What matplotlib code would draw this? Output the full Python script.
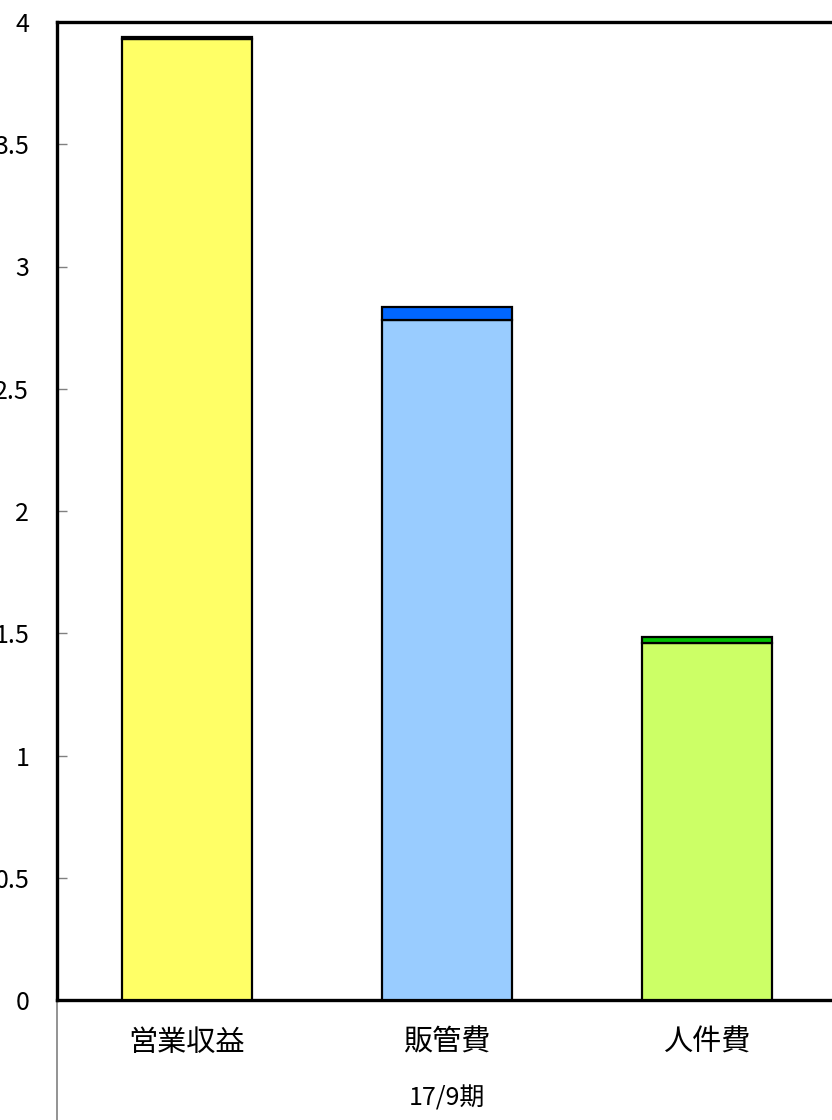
import matplotlib
matplotlib.use("Agg")
import matplotlib.pyplot as plt
from matplotlib.lines import Line2D

plt.rcParams['font.family'] = ['Noto Sans CJK JP', 'DejaVu Sans']

# Data
categories = ["営業収益", "販管費", "人件費"]
base_values = [3.93, 2.78, 1.46]
top_values = [0.008, 0.055, 0.025]
period_label = "17/9期"
yticks = [0, 0.5, 1, 1.5, 2, 2.5, 3, 3.5, 4]
ytick_labels = ["0", "0.5", "1", "1.5", "2", "2.5", "3", "3.5", "4"]

base_colors = ["#FFFF66", "#99CCFF", "#CCFF66"]
top_colors = ["#202000", "#0066FF", "#00C000"]

W, H = 832, 1120
fig = plt.figure(figsize=(W / 100, H / 100), dpi=100)
left, top, bottom, width = 57, 22, 1000, 780
ax = fig.add_axes([left / W, (H - bottom) / H, width / W, (bottom - top) / H])

x = list(range(len(categories)))
ax.bar(x, base_values, width=0.5, color=base_colors, edgecolor="black", linewidth=1.6, zorder=3)
ax.bar(x, top_values, width=0.5, bottom=base_values, color=top_colors,
       edgecolor="black", linewidth=1.6, zorder=3)

ax.set_xlim(-0.5, len(categories) - 0.5)
ax.set_ylim(0, 4)
ax.set_yticks(yticks)
ax.set_yticklabels(ytick_labels, fontsize=18)
ax.tick_params(axis="y", direction="in", length=7, width=1, color="#808080", pad=20)
ax.set_xticks(x)
ax.set_xticklabels(categories, fontsize=21)
ax.tick_params(axis="x", length=0, pad=20)

for side in ["top", "left", "bottom"]:
    ax.spines[side].set_linewidth(2.4)
    ax.spines[side].set_color("black")
ax.spines["right"].set_visible(False)

# Category divider below the axis
ax.add_line(Line2D([0, 0], [0, -0.13], transform=ax.transAxes, color="#808080",
                   linewidth=1.2, clip_on=False))

ax.text(0.5, -0.101, period_label, transform=ax.transAxes, ha="center", va="center", fontsize=18)

fig.savefig("out.png", dpi=100)
